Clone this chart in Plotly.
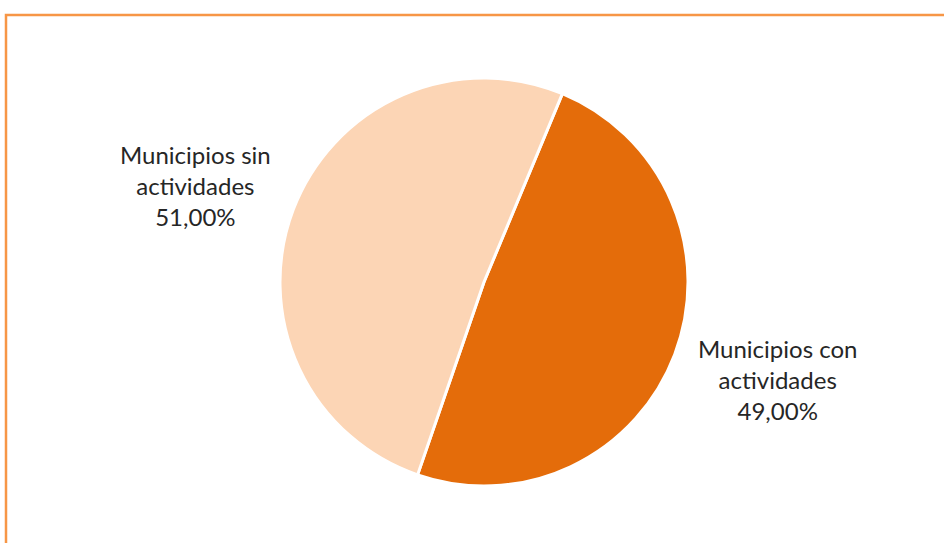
import plotly.graph_objects as go

labels = ["Municipios con actividades", "Municipios sin actividades"]
label_lines = [["Municipios con", "actividades"], ["Municipios sin", "actividades"]]
values = [49.0, 51.0]
colors = ["#E46C0A", "#FCD5B5"]

W, H = 944, 543
cx, cy, r = 484, 282, 204

fig = go.Figure(go.Pie(
    labels=labels,
    values=values,
    sort=False,
    direction="clockwise",
    rotation=22.6,
    marker=dict(colors=colors, line=dict(color="white", width=3)),
    textinfo="none",
    hoverinfo="label+percent",
    showlegend=False,
    domain=dict(x=[(cx - r) / W, (cx + r) / W], y=[1 - (cy + r) / H, 1 - (cy - r) / H]),
))

def fmt(v):
    return f"{v:.2f}".replace(".", ",") + "%"

total = sum(values)
label_pos = [(777, 379), (195, 185)]
for lines, v, (lx, ly) in zip(label_lines, values, label_pos):
    fig.add_annotation(
        x=lx / W, y=1 - ly / H, xref="paper", yref="paper",
        xanchor="center", yanchor="middle",
        text="<br>".join(lines + [fmt(v / total * 100)]),
        showarrow=False, align="center",
        font=dict(family="Lato, Carlito, sans-serif", size=24, color="#262626"),
    )

fig.add_shape(type="rect", xref="paper", yref="paper",
              x0=6 / W, x1=1.02, y0=-0.02, y1=1 - 15 / H,
              line=dict(color="#F79646", width=2.5), fillcolor="rgba(0,0,0,0)")

fig.update_layout(
    width=W, height=H,
    margin=dict(l=0, r=0, t=0, b=0),
    paper_bgcolor="white", plot_bgcolor="white",
)

fig.write_html("out.html", config={"displayModeBar": False},
               post_script="document.body.style.margin='0';document.body.style.overflow='hidden';")
